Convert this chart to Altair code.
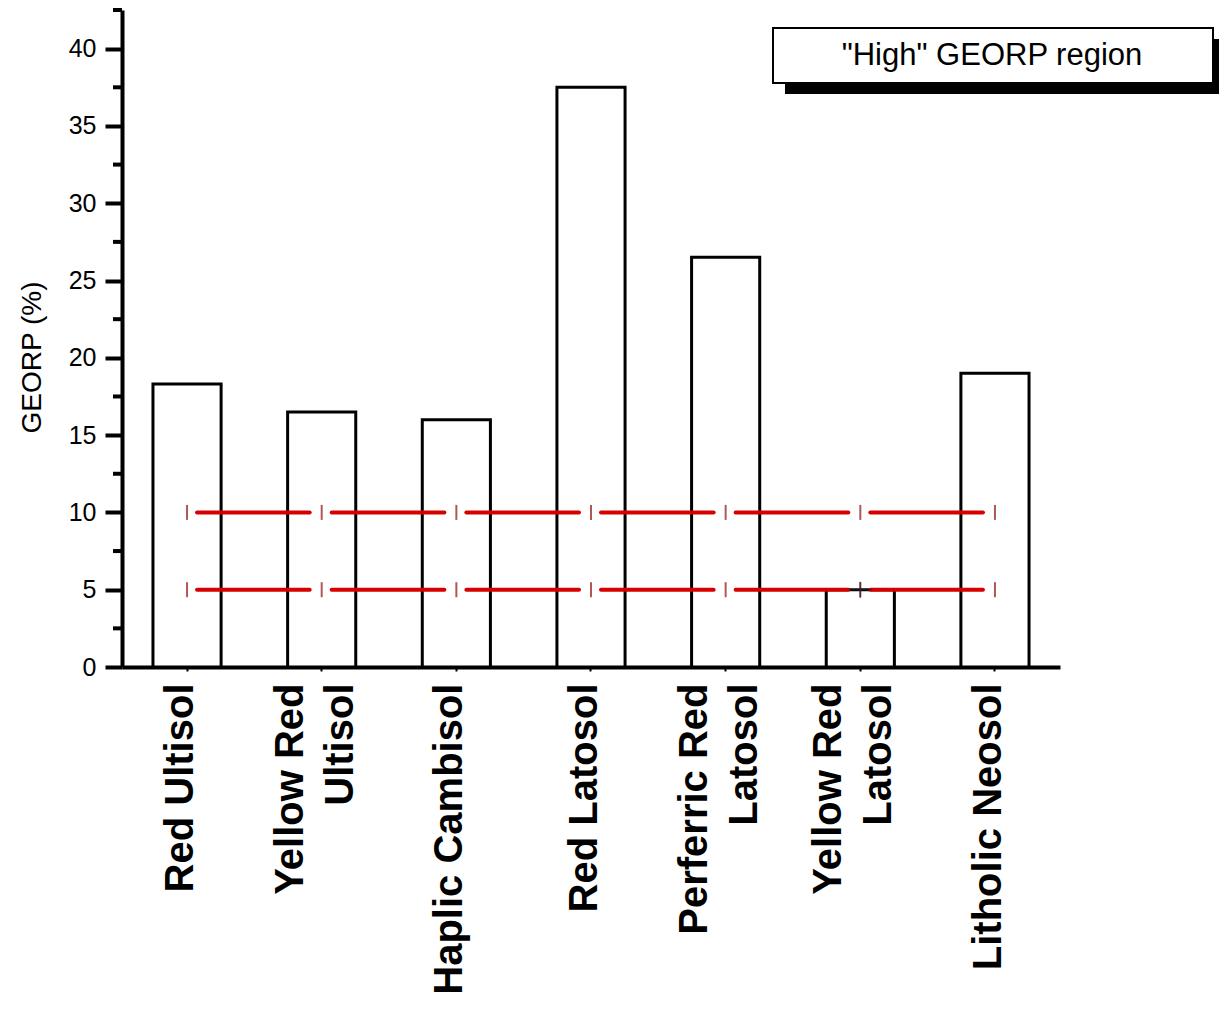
import altair as alt
import pandas as pd

categories = ["Red Ultisol", "Yellow Red Ultisol", "Haplic Cambisol", "Red Latosol",
              "Perferric Red Latosol", "Yellow Red Latosol", "Litholic Neosol"]
values = [18.3, 16.5, 16.0, 37.5, 26.5, 5.0, 19.0]
label_lines = [["Red Ultisol"], ["Yellow Red", "Ultisol"], ["Haplic Cambisol"], ["Red Latosol"],
               ["Perferric Red", "Latosol"], ["Yellow Red", "Latosol"], ["Litholic Neosol"]]
thresholds = [10, 5]
minor_ticks = [2.5, 7.5, 12.5, 17.5, 22.5, 27.5, 32.5, 37.5, 42.5]
major_ticks = [0, 5, 10, 15, 20, 25, 30, 35, 40]
marker_cat = "Yellow Red Latosol"
marker_y = 5
legend_text = '"High" GEORP region'

bars = pd.DataFrame({"cat": categories, "val": values})
segs = pd.DataFrame([
    {"start": categories[i], "end": categories[i + 1], "y": t}
    for t in thresholds for i in range(len(categories) - 1)
])
tks = pd.DataFrame([{"cat": c, "y": t} for t in thresholds for c in categories])
minor = pd.DataFrame({"y": minor_ticks})
marker = pd.DataFrame({"cat": [marker_cat], "y": [marker_y]})

# label expression for multi-line labels
expr = "datum.label"
multi = []
for name, lines in zip(categories, label_lines):
    if len(lines) > 1:
        multi.append(name)
        arr = "[" + ",".join("'" + l + "'" for l in lines) + "]"
        expr = f"datum.label == '{name}' ? {arr} : ({expr})"
multi_test = "indexof([" + ",".join("'" + m + "'" for m in multi) + "], datum.value) >= 0"

xscale = alt.Scale(domain=categories, paddingInner=0.494, paddingOuter=0.23)
yscale = alt.Scale(domain=[0, 42.5], nice=False)

xaxis = alt.Axis(title=None, labelAngle=270, labelFont="Liberation Sans", labelFontSize=40,
                 labelFontWeight="bold", labelColor="black", labelLimit=500,
                 labelLineHeight=50, labelPadding=12, labelExpr=expr,
                 labelOffset={"condition": {"test": multi_test, "value": -31}, "value": -6},
                 domainColor="black", domainWidth=4, tickColor="black", tickWidth=2, tickSize=4)
yaxis = alt.Axis(title="GEORP (%)", values=major_ticks, labelFont="Liberation Sans",
                 labelFontSize=25, labelColor="black", labelPadding=9,
                 titleFont="Liberation Sans", titleFontSize=28, titleFontWeight="normal",
                 titleColor="black", titlePadding=22, titleY=347, grid=False,
                 domainColor="black", domainWidth=4, tickColor="black", tickWidth=4, tickSize=17)

base_bars = alt.Chart(bars).mark_bar(fill="white", stroke="black", strokeWidth=3).encode(
    x=alt.X("cat:N", scale=xscale, axis=xaxis),
    y=alt.Y("val:Q", scale=yscale, axis=yaxis),
)

lines = alt.Chart(segs).mark_rule(color="#d60000", strokeWidth=4, strokeCap="round",
                                  xOffset=10, x2Offset=-12).encode(
    x=alt.X("start:N"),
    x2="end:N",
    y="y:Q",
)

ticks = alt.Chart(tks).mark_tick(orient="vertical", size=15, thickness=2, color="#8b1010").encode(
    x="cat:N",
    y="y:Q",
)

mark_plus = alt.Chart(marker).mark_point(shape="M-1,0H1M0,-0.7V0.7", size=530, stroke="#222222",
                                         strokeWidth=1.5, filled=False).encode(
    x="cat:N",
    y="y:Q",
)

minor_rules = alt.Chart(minor).mark_rule(color="black", strokeWidth=4).encode(
    y="y:Q",
    x=alt.value(-9),
    x2=alt.value(0),
)

one = alt.Data(values=[{"t": legend_text}])
shadow = alt.Chart(one).mark_rect(fill="black").encode(
    x=alt.value(663), x2=alt.value(1112), y=alt.value(29), y2=alt.value(84))
box = alt.Chart(one).mark_rect(fill="white", stroke="black", strokeWidth=2).encode(
    x=alt.value(651), x2=alt.value(1091), y=alt.value(18), y2=alt.value(73))
text = alt.Chart(one).mark_text(font="Liberation Sans", fontSize=31, color="black",
                                align="center", baseline="middle").encode(
    x=alt.value(870), y=alt.value(46), text="t:N")

chart = alt.layer(base_bars, lines, ticks, mark_plus, minor_rules, shadow, box, text).properties(
    width=938, height=657,
    autosize=alt.AutoSizeParams(type="none"),
    padding={"left": 114, "top": 2, "right": 159, "bottom": 338},
    background="white",
).configure_view(stroke=None)

chart.save("out.html", embed_options={"renderer": "svg", "actions": False})
